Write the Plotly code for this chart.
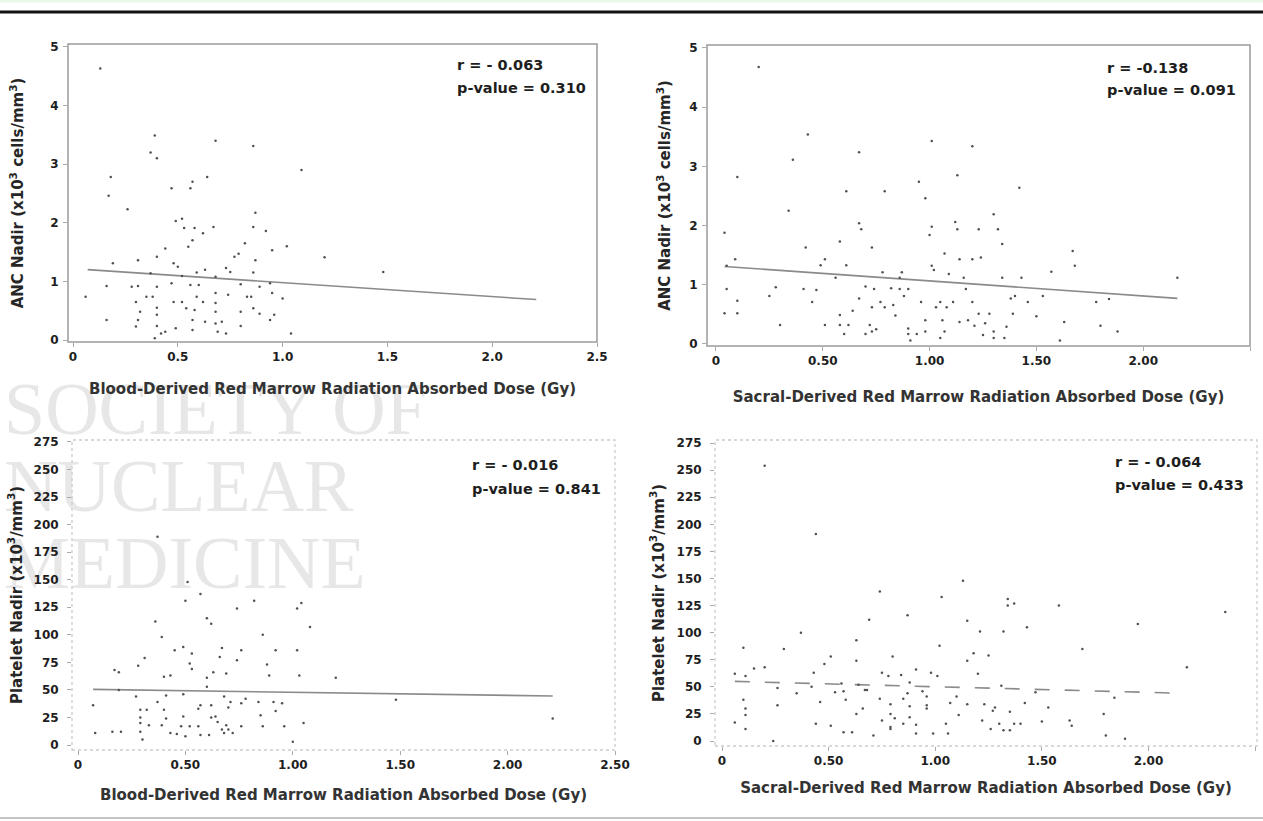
import plotly.graph_objects as go

W, H = 1263, 821

# ---------------- data ----------------
# Panel 1: ANC nadir vs blood-derived red marrow dose
p1_dose = [0.13,0.39,0.40,0.37,0.68,0.86,1.09,0.18,0.17,0.26,
           0.47,0.56,0.57,0.64,0.49,0.52,0.58,0.53,0.62,0.67,
           0.86,0.87,0.92,0.57,0.55,0.44,0.40,0.31,0.19,0.48,
           0.50,0.82,0.79,0.77,0.87,0.95,1.02,1.20,1.48,0.73,
           0.63,0.37,0.52,0.68,0.59,0.75,0.86,0.06,0.16,0.28,
           0.31,0.40,0.47,0.56,0.60,0.80,0.89,0.94,0.35,0.38,
           0.59,0.68,0.74,0.83,0.85,0.95,1.00,0.30,0.48,0.52,
           0.62,0.68,0.32,0.40,0.54,0.58,0.68,0.80,0.86,0.89,
           0.96,0.16,0.30,0.31,0.40,0.40,0.44,0.49,0.57,0.57,
           0.63,0.68,0.71,0.69,0.73,0.80,0.39,0.42,1.04,0.94]
p1_anc = [4.63,3.49,3.10,3.20,3.40,3.31,2.90,2.78,2.46,2.23,
          2.59,2.59,2.70,2.78,2.03,2.07,1.91,1.91,1.82,1.93,
          1.93,2.17,1.86,1.70,1.59,1.56,1.42,1.36,1.31,1.31,
          1.25,1.65,1.47,1.42,1.36,1.53,1.60,1.41,1.16,1.23,
          1.20,1.14,1.09,1.08,1.15,1.16,1.15,0.74,0.92,0.91,
          0.92,0.91,0.97,0.94,0.94,0.95,0.91,0.97,0.74,0.74,
          0.74,0.80,0.77,0.74,0.74,0.80,0.71,0.65,0.65,0.65,
          0.65,0.63,0.48,0.55,0.54,0.51,0.48,0.48,0.54,0.45,
          0.43,0.34,0.23,0.34,0.43,0.24,0.14,0.20,0.34,0.17,
          0.31,0.28,0.31,0.14,0.11,0.24,0.03,0.11,0.11,0.34]
p1_fit_x = [0.07, 2.21]
p1_fit_y = [1.20, 0.69]

# Panel 2: ANC nadir vs sacral-derived red marrow dose
p2_dose = [0.20,0.43,0.36,0.10,0.67,1.01,1.20,0.95,1.13,0.98,
           0.79,0.61,1.42,0.34,1.30,0.04,0.67,0.68,1.01,1.12,
           1.13,1.23,1.32,1.00,0.58,0.73,0.42,1.34,1.07,1.14,
           1.20,1.24,1.67,1.68,1.57,0.51,0.09,0.05,0.61,0.49,
           1.01,1.02,0.56,0.78,0.87,0.86,1.09,1.16,1.34,1.43,
           2.16,0.05,0.28,0.41,0.47,0.70,0.74,0.82,0.86,0.90,
           1.17,0.25,0.10,0.45,0.67,0.77,0.88,0.96,1.05,1.11,
           1.20,1.40,1.38,1.46,1.53,1.78,1.84,0.73,0.79,0.83,
           1.03,1.08,0.04,0.10,0.64,0.84,1.23,1.28,1.39,1.50,
           0.58,0.58,0.30,0.51,0.62,0.72,0.98,1.06,1.14,1.18,
           1.26,1.63,1.80,0.75,0.90,1.21,1.36,0.60,0.70,0.73,
           0.90,0.94,0.98,1.07,1.25,1.30,1.88,0.91,1.05,1.30,
           1.35,1.61]
p2_anc = [4.68,3.54,3.11,2.82,3.24,3.43,3.34,2.74,2.85,2.46,
          2.58,2.58,2.64,2.25,2.19,1.88,2.04,1.94,1.98,2.06,
          1.94,1.94,1.94,1.84,1.73,1.63,1.63,1.69,1.53,1.43,
          1.43,1.46,1.57,1.32,1.22,1.43,1.43,1.32,1.33,1.33,
          1.32,1.25,1.12,1.21,1.21,1.12,1.18,1.12,1.12,1.12,
          1.12,0.93,0.96,0.93,0.91,0.97,0.93,0.94,0.93,0.93,
          0.93,0.81,0.73,0.71,0.77,0.71,0.81,0.71,0.71,0.71,
          0.71,0.81,0.77,0.71,0.81,0.71,0.76,0.62,0.62,0.66,
          0.62,0.62,0.52,0.52,0.56,0.48,0.51,0.51,0.51,0.47,
          0.49,0.32,0.32,0.32,0.32,0.32,0.40,0.40,0.37,0.40,
          0.35,0.37,0.31,0.25,0.26,0.31,0.29,0.17,0.17,0.21,
          0.17,0.17,0.21,0.21,0.15,0.21,0.21,0.06,0.10,0.10,
          0.10,0.06]
p2_fit_x = [0.04, 2.16]
p2_fit_y = [1.31, 0.77]

# Panel 3: platelet nadir vs blood-derived red marrow dose
p3_dose = [0.37,0.51,0.50,0.57,0.82,0.74,1.02,1.04,0.60,0.62,
           0.36,0.39,1.08,0.86,0.45,0.49,0.53,0.67,0.76,0.92,
           1.02,0.17,0.19,0.28,0.31,0.52,0.53,0.66,0.74,0.88,
           0.69,0.40,0.43,0.60,0.63,0.89,1.03,1.20,0.19,0.41,
           0.49,0.37,0.60,0.68,0.78,0.71,0.84,0.91,0.27,0.57,
           0.56,0.62,0.76,1.48,0.29,0.32,0.40,0.70,0.92,0.95,
           0.07,0.29,0.41,0.49,0.62,0.64,0.85,2.21,0.16,0.20,
           0.29,0.33,0.39,0.48,0.52,0.56,0.65,0.69,0.67,0.68,
           0.70,0.72,0.76,0.86,0.96,1.05,0.29,0.43,0.46,0.50,
           0.57,0.61,0.30,1.00,0.08]
p3_plt = [189,148,131,137,131,124,124,129,115,110,
          112,98,107,100,86,89,83,88,86,86,
          86,68,66,72,79,74,69,80,77,73,
          65,62,63,61,66,63,63,61,50,45,
          46,39,53,44,42,39,39,39,44,36,
          33,36,38,41,32,32,32,34,31,38,
          36,25,24,26,25,26,27,24,12,12,
          20,18,18,17,17,17,21,18,14,11,
          14,11,17,17,17,20,12,11,10,8,
          9,9,5,3,11]
p3_fit_x = [0.07, 2.21]
p3_fit_y = [50.5, 44.5]

# Panel 4: platelet nadir vs sacral-derived red marrow dose
p4_dose = [0.20,0.44,1.13,0.74,1.03,1.34,1.37,1.34,1.58,2.36,
           0.87,0.69,1.15,1.95,1.43,0.37,1.21,1.32,0.63,1.02,
           0.10,0.29,1.69,0.51,0.80,1.18,1.25,0.48,0.63,1.15,
           0.15,0.20,0.91,0.98,0.43,0.75,0.78,0.84,1.01,1.20,
           2.18,0.06,0.11,0.88,1.31,0.56,0.64,0.68,0.42,0.26,
           0.35,0.53,0.57,0.67,0.74,0.87,0.94,0.96,1.10,1.47,
           1.84,0.46,0.58,0.79,0.85,0.88,0.96,1.07,1.15,1.23,
           1.42,0.26,0.10,0.11,0.11,0.66,0.96,1.28,1.27,1.35,
           1.53,0.63,0.79,1.11,1.79,0.81,0.88,1.22,1.63,0.06,
           0.44,0.51,0.75,0.79,0.85,0.91,1.05,1.30,1.37,1.40,
           1.50,1.64,0.11,0.79,1.26,1.32,1.35,0.57,0.61,0.91,
           0.99,1.06,0.71,1.80,1.89,0.24]
p4_plt = [254,191,148,138,133,131,127,125,125,119,
          116,112,111,108,105,100,101,101,93,88,
          86,85,85,78,78,81,79,71,74,74,
          67,68,66,63,63,63,60,61,60,62,
          68,62,60,54,51,53,52,47,50,49,
          44,45,46,47,39,44,46,41,41,45,
          40,36,38,34,39,32,33,35,34,34,
          35,33,38,30,24,30,30,31,28,27,
          31,25,25,24,25,21,22,19,19,17,
          16,14,19,13,16,15,16,16,16,16,
          18,14,11,11,11,10,10,8,8,7,
          7,7,5,5,2,0]
p4_fit_x = [0.06, 2.17]
p4_fit_y = [55, 44]

# tick labels
anc_ticks = [0, 1, 2, 3, 4, 5]
plt_ticks = [0, 25, 50, 75, 100, 125, 150, 175, 200, 225, 250, 275]
dose_ticks = [0, 0.5, 1.0, 1.5, 2.0, 2.5]
dose_text_p1 = ["0", "0.5", "1.0", "1.5", "2.0", "2.5"]
dose_text_2dp = ["0", "0.50", "1.00", "1.50", "2.00", "2.50"]

# statistics text
stats = [("r = - 0.063", "p-value = 0.310"),
         ("r = -0.138", "p-value = 0.091"),
         ("r = - 0.016", "p-value = 0.841"),
         ("r = - 0.064", "p-value = 0.433")]

x_titles = ["Blood-Derived Red Marrow Radiation Absorbed Dose (Gy)",
            "Sacral-Derived Red Marrow Radiation Absorbed Dose (Gy)",
            "Blood-Derived Red Marrow Radiation Absorbed Dose (Gy)",
            "Sacral-Derived Red Marrow Radiation Absorbed Dose (Gy)"]
y_titles = ["ANC Nadir (x10<sup>3</sup> cells/mm<sup>3</sup>)",
            "ANC Nadir (x10<sup>3</sup> cells/mm<sup>3</sup>)",
            "Platelet Nadir (x10<sup>3</sup>/mm<sup>3</sup>)",
            "Platelet Nadir (x10<sup>3</sup>/mm<sup>3</sup>)"]
watermark = ["SOCIETY OF", "NUCLEAR", "MEDICINE"]

# ---------------- layout helpers ----------------
def px(x):
    return x / W

def py(y):
    return 1 - y / H

FONT = "DejaVu Sans"
DOT = "#505050"
FIT = "#8a8a8a"

fig = go.Figure()

panels = [
    (p1_dose, p1_anc, p1_fit_x, p1_fit_y, "x", "y", "solid"),
    (p2_dose, p2_anc, p2_fit_x, p2_fit_y, "x2", "y2", "solid"),
    (p3_dose, p3_plt, p3_fit_x, p3_fit_y, "x3", "y3", "solid"),
    (p4_dose, p4_plt, p4_fit_x, p4_fit_y, "x4", "y4", "longdash"),
]
for xs, ys, fx, fy, xa, ya, dash in panels:
    fig.add_trace(go.Scatter(x=fx, y=fy, mode="lines", xaxis=xa, yaxis=ya,
                             line=dict(color=FIT, width=1.6, dash=dash),
                             showlegend=False, hoverinfo="skip"))
    fig.add_trace(go.Scatter(x=xs, y=ys, mode="markers", xaxis=xa, yaxis=ya,
                             marker=dict(color=DOT, size=2.5, line=dict(width=0)),
                             showlegend=False))

tickfont = dict(family=FONT, size=12, color="#1e1e1e", weight="bold")
xtitlefont = dict(family=FONT, size=15, color="#333333", weight="bold")
ytitlefont = dict(family=FONT, size=15, color="#262626", weight="bold")

def xaxis(dom, rng, text, title, standoff, anchor):
    return dict(domain=[px(dom[0]), px(dom[1])], range=rng, tickvals=dose_ticks,
                ticktext=text, ticks="outside", ticklen=4, tickcolor="#aaa",
                showgrid=False, zeroline=False, showline=False, tickfont=tickfont,
                anchor=anchor, automargin=False,
                title=dict(text=title, font=xtitlefont, standoff=standoff))

def yaxis(dom, rng, vals, lstand, title, standoff, anchor):
    return dict(domain=[py(dom[1]), py(dom[0])], range=rng, tickvals=vals,
                ticks="outside", ticklen=4, tickcolor="#aaa", ticklabelstandoff=lstand,
                showgrid=False, zeroline=False, showline=False, tickfont=tickfont,
                anchor=anchor, automargin=False,
                title=dict(text=title, font=ytitlefont, standoff=standoff))

fig.update_layout(
    width=W, height=H, margin=dict(l=0, r=0, t=0, b=0),
    paper_bgcolor="white", plot_bgcolor="rgba(0,0,0,0)",
    xaxis=xaxis((68, 597), [-0.024, 2.5], dose_text_p1, x_titles[0], 20, "y"),
    yaxis=yaxis((44, 342), [-0.034, 5.05], anc_ticks, 2, y_titles[0], 22, "x"),
    xaxis2=xaxis((707, 1250), [-0.042, 2.5], dose_text_2dp, x_titles[1], 24, "y2"),
    yaxis2=yaxis((45, 346), [-0.034, 5.05], anc_ticks, 2, y_titles[1], 14, "x2"),
    xaxis3=xaxis((72, 615), [-0.028, 2.5], dose_text_2dp, x_titles[2], 18, "y3"),
    yaxis3=yaxis((440, 750), [-4.5, 276.8], plt_ticks, 6, y_titles[2], 7, "x3"),
    xaxis4=xaxis((715, 1257), [-0.033, 2.509], dose_text_2dp, x_titles[3], 15, "y4"),
    yaxis4=yaxis((440, 746), [-4.6, 277.8], plt_ticks, 6, y_titles[3], 8, "x4"),
)

shapes = []
# page border lines
shapes.append(dict(type="rect", xref="paper", yref="paper", x0=0, x1=1, y0=py(2.5), y1=1,
                   line=dict(width=0), fillcolor="#eaf8ea", layer="below"))
shapes.append(dict(type="line", xref="paper", yref="paper", x0=0, x1=1, y0=py(12), y1=py(12),
                   line=dict(color="#111", width=3)))
shapes.append(dict(type="line", xref="paper", yref="paper", x0=0, x1=1, y0=py(818), y1=py(818),
                   line=dict(color="#c4c4c4", width=2)))
# watermark (behind everything)
wm_pos = [401, 478, 555]
for txt, yc in zip(watermark, wm_pos):
    shapes.append(dict(type="rect", xref="paper", yref="paper",
                       x0=px(1), x1=px(600), y0=py(yc + 30), y1=py(yc - 30),
                       line=dict(width=0), fillcolor="rgba(0,0,0,0)", layer="below",
                       label=dict(text=txt, textposition="middle left", padding=0,
                                  font=dict(family="Liberation Serif", size=74, color="#e7e7e7"))))
# frames
for sfx, color, dash, width in [("", "#9a9a9a", "solid", 1.5),
                                ("2", "#9a9a9a", "solid", 1.5),
                                ("3", "#cccccc", "dot", 1.3),
                                ("4", "#cccccc", "dot", 1.3)]:
    shapes.append(dict(type="rect", xref=f"x{sfx} domain", yref=f"y{sfx} domain",
                       x0=0, x1=1, y0=0, y1=1, line=dict(color=color, width=width, dash=dash)))
fig.update_layout(shapes=shapes)

ann = []
# statistics
stat_pos = [(455, 65, 88), (1105, 68, 90), (470, 465, 489), (1113, 462, 485)]
for (r, p), (x0, yr, yp) in zip(stats, stat_pos):
    for t, yy in ((r, yr), (p, yp)):
        ann.append(dict(text=t, x=px(x0), y=py(yy), xref="paper", yref="paper",
                        xanchor="left", yanchor="middle", showarrow=False,
                        font=dict(family=FONT, size=14.5, color="#1e1e1e", weight="bold")))
fig.update_layout(annotations=ann)

fig.write_html("out.html", config={"displayModeBar": False},
               post_script="document.body.style.margin='0';document.body.style.overflow='hidden';")
